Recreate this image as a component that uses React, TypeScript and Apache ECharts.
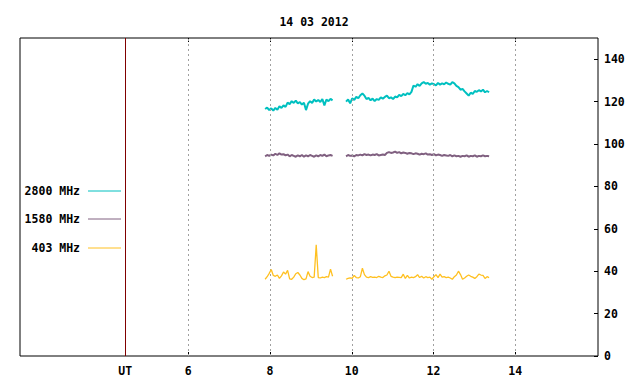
import React, { useEffect, useRef } from "react";
import * as echarts from "echarts";

const TITLE = "14 03 2012";
const SERIES_NAMES = ["2800 MHz", "1580 MHz", "403 MHz"];
const SERIES_COLORS = ["#00c0c0", "#806080", "#ffc020"];
const SERIES_WIDTHS = [2, 2, 1.3];
const X_TICKS = [6, 8, 10, 12, 14];
const UT_POSITION = 4.459;
const Y_TICKS = [0, 20, 40, 60, 80, 100, 120, 140];
const SEG1_START = 7.88;
const SEG2_START = 9.86;
const STEP = 0.05;

const teal1 = [116.5, 117.2, 116.0, 116.8, 115.8, 117.0, 116.2, 117.8, 117.0, 118.2, 117.5, 119.5, 118.8, 120.2, 119.4, 120.5, 119.2, 119.8, 118.6, 119.5, 116.0, 119.0, 120.2, 119.4, 121.0, 120.0, 120.8, 119.8, 121.2, 118.2, 121.0, 120.2, 121.3, 120.6];
const teal2 = [120.0, 121.0, 119.2, 121.5, 120.8, 122.2, 121.6, 123.0, 123.8, 122.8, 121.2, 121.8, 120.6, 121.4, 120.2, 121.2, 120.8, 122.0, 121.4, 122.2, 122.8, 121.6, 122.0, 121.2, 122.4, 122.0, 123.2, 122.6, 123.6, 123.0, 124.0, 123.4, 124.6, 127.6, 127.0, 128.2, 127.4, 128.6, 129.2, 128.4, 128.8, 128.0, 128.6, 128.2, 127.6, 128.8, 128.0, 128.6, 128.2, 129.0, 128.4, 128.0, 129.2, 128.6, 127.4, 126.8, 125.6, 126.0, 124.8, 123.8, 122.8, 124.2, 123.6, 125.0, 124.6, 125.4, 124.8, 125.6, 124.4, 125.0, 124.4];

const purple1 = [94.2, 94.8, 94.4, 95.0, 94.6, 95.4, 94.8, 95.6, 95.0, 95.2, 94.6, 95.0, 94.2, 94.8, 94.4, 94.0, 94.6, 94.2, 94.8, 94.0, 94.6, 94.2, 94.8, 94.4, 94.0, 94.6, 94.2, 94.8, 94.4, 95.0, 94.2, 94.6, 94.8, 94.4];
const purple2 = [94.2, 94.8, 94.4, 94.6, 94.2, 94.8, 94.6, 95.0, 94.6, 95.2, 94.8, 95.0, 94.6, 95.0, 94.8, 95.2, 94.6, 94.8, 95.0, 94.8, 95.8, 96.2, 95.8, 96.0, 96.4, 95.8, 96.2, 95.6, 96.0, 95.8, 95.4, 95.8, 95.6, 95.2, 95.6, 95.4, 95.0, 95.4, 95.2, 95.6, 95.0, 95.2, 94.8, 95.2, 94.6, 95.0, 94.8, 94.4, 94.8, 94.6, 94.4, 94.8, 94.2, 94.6, 94.2, 94.4, 94.0, 94.4, 94.2, 94.6, 94.0, 94.4, 94.2, 94.6, 94.0, 94.4, 94.2, 94.6, 94.2, 94.4, 94.2];

const yellow1 = [36.2, 37.4, 39.0, 40.8, 38.0, 37.6, 38.2, 36.6, 37.8, 39.6, 38.6, 40.4, 36.4, 36.2, 37.2, 38.8, 39.4, 38.2, 36.6, 36.0, 36.4, 39.8, 37.6, 37.0, 37.2, 52.4, 37.0, 36.8, 37.2, 37.0, 37.4, 37.2, 41.0, 37.6];
const yellow2 = [36.2, 36.6, 36.8, 36.6, 38.0, 37.0, 36.8, 37.4, 41.4, 38.4, 37.2, 37.0, 37.4, 37.1, 37.2, 37.0, 37.6, 37.2, 37.0, 37.8, 38.2, 40.0, 37.6, 37.2, 37.0, 37.2, 37.1, 37.0, 38.6, 36.6, 38.0, 36.8, 37.2, 37.0, 37.4, 38.4, 37.0, 37.6, 36.8, 37.4, 37.0, 37.2, 36.2, 37.4, 38.4, 37.0, 38.6, 37.2, 37.4, 37.0, 37.2, 36.8, 36.2, 37.4, 38.2, 40.0, 38.4, 36.2, 36.8, 37.6, 38.2, 37.6, 37.2, 36.6, 37.4, 38.6, 38.2, 38.0, 36.6, 37.4, 37.0];

const FONT = '"DejaVu Sans Mono", monospace';

function build(seg1: number[], seg2: number[]) {
  const out: (number | null)[][] = [];
  seg1.forEach((v, i) => out.push([+(SEG1_START + i * STEP).toFixed(3), v]));
  out.push([(SEG1_START + seg1.length * STEP + SEG2_START) / 2, null]);
  seg2.forEach((v, i) => out.push([+(SEG2_START + i * STEP).toFixed(3), v]));
  return out;
}

export default function App() {
  const ref = useRef<HTMLDivElement>(null);
  useEffect(() => {
    if (!ref.current) return;
    const chart = echarts.init(ref.current, null, { renderer: "svg" });
    const datasets = [build(teal1, teal2), build(purple1, purple2), build(yellow1, yellow2)];
    const legendY = [191, 219, 248];
    const xMin = 1.883;
    const xMax = 16.024;
    const tickCommon = {
      show: true,
      inside: true,
      length: 4,
      customValues: X_TICKS,
      lineStyle: { color: "#000", width: 1 },
    };
    chart.setOption({
      animation: false,
      backgroundColor: "#fff",
      title: {
        text: TITLE,
        left: 309,
        top: 11,
        textAlign: "center",
        textStyle: { fontFamily: FONT, fontSize: 11.5, fontWeight: "bold", color: "#000" },
      },
      grid: { left: 20, right: 42, top: 38, bottom: 28, show: true, borderColor: "#000", borderWidth: 1, backgroundColor: "transparent" },
      xAxis: [
        {
          type: "value",
          min: xMin,
          max: xMax,
          position: "bottom",
          axisLine: { show: false },
          axisTick: tickCommon,
          splitLine: { show: false },
          axisLabel: {
            customValues: [UT_POSITION, ...X_TICKS],
            margin: 9,
            fontFamily: FONT,
            fontSize: 11.5,
            fontWeight: "bold",
            color: "#000",
            formatter: (v: number) => (Math.abs(v - UT_POSITION) < 0.01 ? "{ut|UT}" : String(v)),
            rich: { ut: { fontFamily: FONT, fontSize: 11.5, fontWeight: "bold", color: "#000", padding: [0, 0, 6, 0] } },
          },
        },
        {
          type: "value",
          min: xMin,
          max: xMax,
          position: "top",
          axisLine: { show: false },
          axisTick: tickCommon,
          splitLine: { show: false },
          axisLabel: { show: false },
        },
      ],
      yAxis: {
        type: "value",
        min: 0,
        max: 150,
        position: "right",
        axisLine: { show: false },
        axisTick: { show: true, inside: true, length: 4, customValues: Y_TICKS, lineStyle: { color: "#000" } },
        splitLine: { show: false },
        axisLabel: {
          customValues: Y_TICKS,
          margin: 6,
          fontFamily: FONT,
          fontSize: 11.5,
          fontWeight: "bold",
          color: "#000",
        },
      },
      series: datasets.map((d, i) => ({
        name: SERIES_NAMES[i],
        type: "line",
        data: d,
        showSymbol: false,
        symbol: "none",
        connectNulls: false,
        lineStyle: { color: SERIES_COLORS[i], width: SERIES_WIDTHS[i] },
        itemStyle: { color: SERIES_COLORS[i] },
        silent: true,
        z: 3 + i,
        markLine:
          i === 0
            ? {
                silent: true,
                symbol: ["none", "none"],
                label: { show: false },
                lineStyle: { color: "#a0a0a0", type: [2, 3], width: 1 },
                data: [
                  ...X_TICKS.map((x) => ({ xAxis: x })),
                  { xAxis: UT_POSITION, lineStyle: { color: "#800000", type: "solid", width: 1 } },
                ],
              }
            : undefined,
      })),
      graphic: SERIES_NAMES.flatMap((name, i) => [
        {
          type: "text",
          x: 80,
          y: legendY[i],
          style: {
            text: name,
            font: `bold 11.5px ${FONT}`,
            fill: "#000",
            align: "right",
            verticalAlign: "middle",
          },
        },
        {
          type: "line",
          shape: { x1: 88, y1: legendY[i], x2: 121, y2: legendY[i] },
          style: { stroke: SERIES_COLORS[i], lineWidth: 1 },
        },
      ]),
    });
    return () => chart.dispose();
  }, []);
  return (
    <div
      ref={ref}
      style={{ position: "absolute", left: 0, top: 0, width: 640, height: 384, background: "#fff" }}
    />
  );
}
